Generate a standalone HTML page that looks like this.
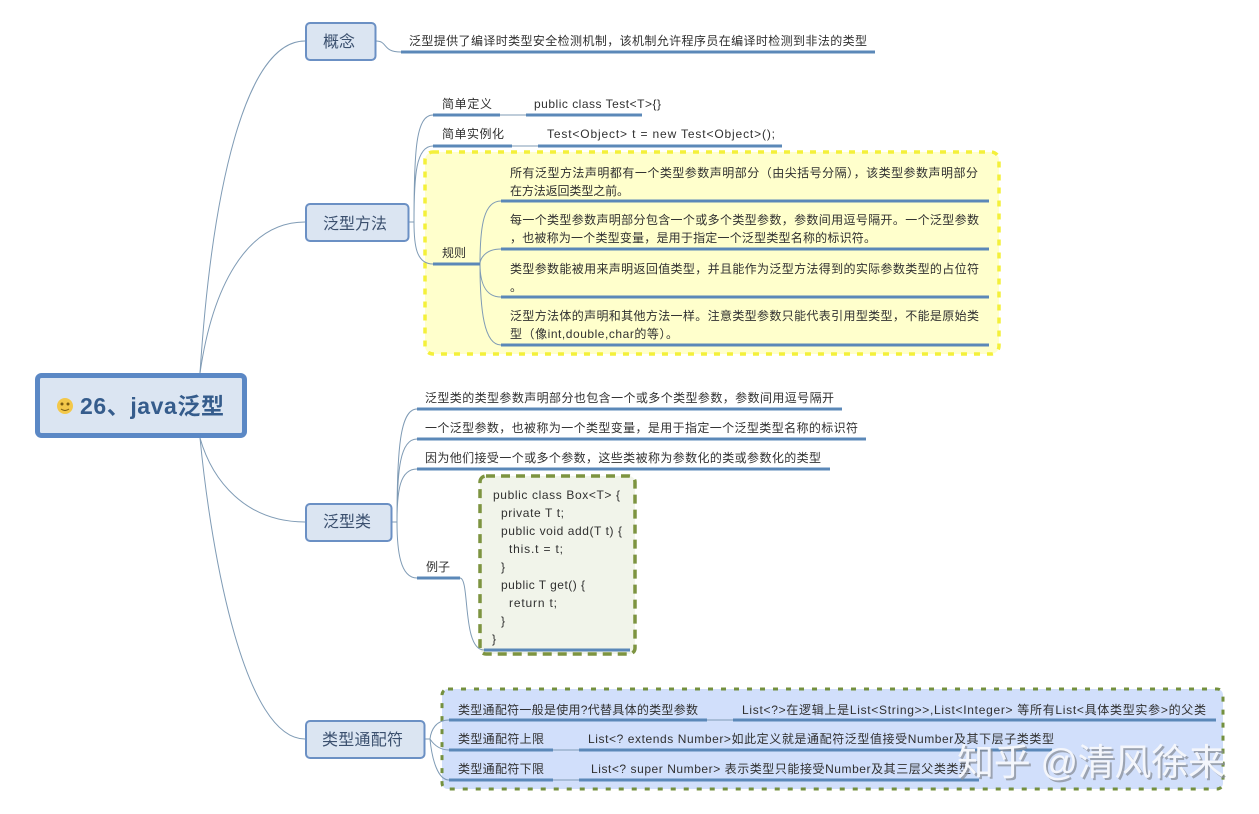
<!DOCTYPE html>
<html><head><meta charset="utf-8"><style>
html,body{margin:0;padding:0;background:#fff;width:1259px;height:814px;overflow:hidden}
svg{display:block}
text{font-family:"Liberation Sans","WenQuanYi Zen Hei","Noto Sans CJK SC",sans-serif;font-size:12px;fill:#303030}
.n{font-size:16px;fill:#3a4f6e}
.t{stroke:#5b88b8;stroke-width:3;fill:none}
.c{stroke:#7f9bb5;stroke-width:1;fill:none}
.box{fill:#dbe5f2;stroke:#6b90c4;stroke-width:2}
</style></head><body>
<svg width="1259" height="814" viewBox="0 0 1259 814" xmlns="http://www.w3.org/2000/svg">
<rect x="425" y="152" width="574" height="202" rx="8" fill="#ffffcc" stroke="#f4f03a" stroke-width="3.500" stroke-dasharray="6 7"/>
<rect x="480" y="476" width="155" height="178" rx="6" fill="#f1f4ea" stroke="#7d9440" stroke-width="3.500" stroke-dasharray="9 6"/>
<rect x="442" y="689" width="781" height="100" rx="6" fill="#d1dffb" stroke="#74903f" stroke-width="3" stroke-dasharray="5 8"/>

<path class="c" d="M200 373C212 190 245 41 305 41"/>
<path class="c" d="M200 373C212 290 245 222 305 222"/>
<path class="c" d="M200 438C212 480 245 522 305 522"/>
<path class="c" d="M200 438C212 560 245 739 305 739"/>
<path class="c" d="M376 41C388 41 382 52 401 52"/>
<path class="c" d="M409 222H414M414 222C414 150 416 115 433 115M414 222C414 175 416 146 433 146M414 222C414 245 416 264 433 264"/>
<path class="c" d="M500 115H526M512 146H538"/>
<path class="c" d="M480 264C480 225 484 201 501 201M480 264C480 260 484 249 501 249M480 264C480 280 484 297 501 297M480 264C480 310 484 345 501 345"/>
<path class="c" d="M392 522H397M397 522C397 450 400 409 417 409M397 522C397 470 400 439 417 439M397 522C397 490 400 469 417 469M397 522C397 550 400 578 417 578"/>
<path class="c" d="M460 578C470 578 462 650 484 650"/>
<path class="c" d="M425 739H430M430 739C431 730 436 720 449 720M430 739C434 745 440 750 449 750M430 739C432 760 438 780 449 780"/>
<path class="c" d="M707 720H733M553 750H579M553 780H579"/>

<path class="t" d="M401 52H875M433 115H500M526 115H642M433 146H512M538 146H782M433 264H480"/>
<path class="t" d="M501 201H989M501 249H989M501 297H989M501 345H989"/>
<path class="t" d="M417 409H842M417 439H866M417 469H830M417 578H460M484 650H630"/>
<path class="t" d="M449 720H707M733 720H1216M449 750H553M579 750H1052M449 780H553M579 780H979"/>

<rect x="37.500" y="375.500" width="207" height="60" rx="4" fill="#dbe5f2" stroke="#5b88c5" stroke-width="5"/>
<circle cx="65" cy="406" r="8" fill="#f3c84a"/>
<circle cx="62" cy="404" r="1.500" fill="#7a5b10"/><circle cx="68" cy="404" r="1.500" fill="#7a5b10"/>
<path d="M61 409Q65 412 69 409" stroke="#7a5b10" fill="none"/>
<text x="80" y="414" textLength="144" lengthAdjust="spacing" style="font-size:23px;font-weight:bold;fill:#355c8c;font-family:'Liberation Sans','Noto Sans CJK SC',sans-serif">26、java泛型</text>

<rect class="box" x="306" y="23" width="69.500" height="37" rx="4"/>
<text class="n" x="323" y="47" textLength="32">概念</text>
<rect class="box" x="306" y="204" width="102.500" height="37" rx="4"/>
<text class="n" x="323" y="229" textLength="64">泛型方法</text>
<rect class="box" x="306" y="504" width="85.500" height="37" rx="4"/>
<text class="n" x="323" y="527" textLength="48">泛型类</text>
<rect class="box" x="306" y="721" width="118.500" height="37" rx="4"/>
<text class="n" x="322" y="745" textLength="81">类型通配符</text>

<text x="409" y="45" textLength="458">泛型提供了编译时类型安全检测机制，该机制允许程序员在编译时检测到非法的类型</text>
<text x="442" y="108" textLength="50">简单定义</text>
<text x="534" y="108" textLength="127">public class Test&lt;T&gt;{}</text>
<text x="442" y="138" textLength="62">简单实例化</text>
<text x="547" y="138" textLength="228">Test&lt;Object&gt; t = new Test&lt;Object&gt;();</text>
<text x="442" y="257" textLength="24">规则</text>

<text x="510" y="177" textLength="468">所有泛型方法声明都有一个类型参数声明部分（由尖括号分隔），该类型参数声明部分</text>
<text x="510" y="195" textLength="119">在方法返回类型之前。</text>
<text x="510" y="224" textLength="469">每一个类型参数声明部分包含一个或多个类型参数，参数间用逗号隔开。一个泛型参数</text>
<text x="510" y="242" textLength="366">，也被称为一个类型变量，是用于指定一个泛型类型名称的标识符。</text>
<text x="510" y="273" textLength="469">类型参数能被用来声明返回值类型，并且能作为泛型方法得到的实际参数类型的占位符</text>
<text x="510" y="291">。</text>
<text x="510" y="320" textLength="469">泛型方法体的声明和其他方法一样。注意类型参数只能代表引用型类型，不能是原始类</text>
<text x="510" y="338" textLength="168">型（像int,double,char的等）。</text>

<text x="425" y="402" textLength="409">泛型类的类型参数声明部分也包含一个或多个类型参数，参数间用逗号隔开</text>
<text x="425" y="432" textLength="433">一个泛型参数，也被称为一个类型变量，是用于指定一个泛型类型名称的标识符</text>
<text x="425" y="462" textLength="396">因为他们接受一个或多个参数，这些类被称为参数化的类或参数化的类型</text>
<text x="426" y="571" textLength="24">例子</text>

<text x="493" y="499" textLength="127">public class Box&lt;T&gt; {</text>
<text x="501" y="517" textLength="63">private T t;</text>
<text x="501" y="535" textLength="121">public void add(T t) {</text>
<text x="509" y="553" textLength="54">this.t = t;</text>
<text x="501" y="571">}</text>
<text x="501" y="589" textLength="84">public T get() {</text>
<text x="509" y="607" textLength="48">return t;</text>
<text x="501" y="625">}</text>
<text x="492" y="643">}</text>

<text x="458" y="714" textLength="240">类型通配符一般是使用?代替具体的类型参数</text>
<text x="742" y="714" textLength="464">List&lt;?&gt;在逻辑上是List&lt;String&gt;&gt;,List&lt;Integer&gt; 等所有List&lt;具体类型实参&gt;的父类</text>
<text x="458" y="743" textLength="86">类型通配符上限</text>
<text x="588" y="743" textLength="466">List&lt;? extends Number&gt;如此定义就是通配符泛型值接受Number及其下层子类类型</text>
<text x="458" y="773" textLength="86">类型通配符下限</text>
<text x="591" y="773" textLength="380">List&lt;? super Number&gt; 表示类型只能接受Number及其三层父类类型</text>

<text x="957" y="775" textLength="268" style="font-size:37px;fill:#8a8f99;opacity:.75" transform="translate(2 2)">知乎 @清风徐来</text>
<text x="957" y="775" textLength="268" style="font-size:37px;fill:#f4f6fb">知乎 @清风徐来</text>
</svg>
</body></html>
